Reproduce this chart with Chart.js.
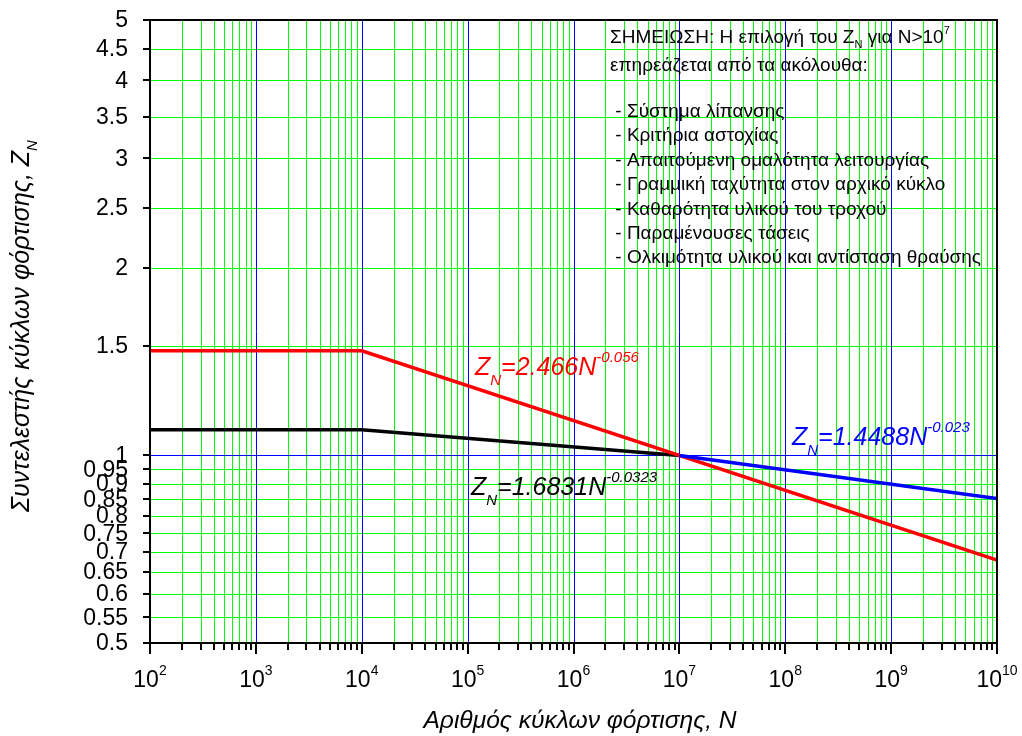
<!DOCTYPE html>
<html>
<head>
<meta charset="utf-8">
<script src="https://cdn.jsdelivr.net/npm/chart.js@4.4.1/dist/chart.umd.min.js"></script>
<style>
  html, body { margin: 0; padding: 0; background: #fff; }
  canvas { display: block; }
</style>
</head>
<body>
<canvas id="zn" width="1022" height="736"></canvas>
<script>
// life factor curves, N = load cycles, Z = factor
const redN = [1e2, 1e4, 1e10];
const redZ = [1.472, 1.472, 0.679];
const blackN = [1e2, 1e4, 1e7];
const blackZ = [1.10, 1.10, 1.00];
const blueN = [1e7, 1e10];
const blueZ = [1.00, 0.853];

// axis ticks
const zTicks = [0.5, 0.55, 0.6, 0.65, 0.7, 0.75, 0.8, 0.85, 0.9, 0.95, 1, 1.5, 2, 2.5, 3, 3.5, 4, 4.5, 5];
const nExponents = [2, 3, 4, 5, 6, 7, 8, 9, 10];

const FONT = '"Liberation Sans", Arial, sans-serif';
const GREEN = '#00ff00';
const BLUE = '#0000ff';

// minor grid positions 1..9 x 10^k, plus last decade
const nGrid = [];
nExponents.forEach((e, i) => {
  if (i === nExponents.length - 1) { nGrid.push(Math.pow(10, e)); return; }
  for (let m = 1; m <= 9; m++) nGrid.push(m * Math.pow(10, e));
});
const isDecade = v => Math.abs(Math.log10(v) - Math.round(Math.log10(v))) < 1e-9;

function pts(xs, ys) { return xs.map((x, i) => ({ x: x, y: ys[i] })); }

// text with sub/superscript parts
function richWidth(ctx, parts, size, style) {
  let w = 0;
  parts.forEach(p => {
    const fs = p.sub || p.sup ? p.fs || Math.round(size * 0.6) : size;
    ctx.font = style + ' ' + fs + 'px ' + FONT;
    w += ctx.measureText(p.t).width;
  });
  return w;
}
function drawRich(ctx, x, y, parts, size, style, color, subDy, supDy) {
  ctx.fillStyle = color;
  ctx.textBaseline = 'alphabetic';
  ctx.textAlign = 'left';
  let cx = x;
  parts.forEach(p => {
    const fs = p.sub || p.sup ? p.fs || Math.round(size * 0.6) : size;
    ctx.font = style + ' ' + fs + 'px ' + FONT;
    const dy = p.sub ? subDy : p.sup ? supDy : 0;
    ctx.fillText(p.t, cx, y + dy);
    cx += ctx.measureText(p.t).width;
  });
}

const noteItems = [
  ' - Σύστημα λίπανσης',
  ' - Κριτήρια αστοχίας',
  ' - Απαιτούμενη ομαλότητα λειτουργίας',
  ' - Γραμμική ταχύτητα στον αρχικό κύκλο',
  ' - Καθαρότητα υλικού του τροχού',
  ' - Παραμένουσες τάσεις',
  ' - Ολκιμότητα υλικού και αντίσταση θραύσης'
];

function vLine(ctx, x, a) {
  ctx.beginPath(); ctx.moveTo(x, a.top); ctx.lineTo(x, a.bottom); ctx.stroke();
}
function hLine(ctx, y, a) {
  ctx.beginPath(); ctx.moveTo(a.left, y); ctx.lineTo(a.right, y); ctx.stroke();
}

const gridPlugin = {
  id: 'loggrid',
  beforeDatasetsDraw(chart) {
    const ctx = chart.ctx;
    const a = chart.chartArea;
    const xs = chart.scales.x;
    const ys = chart.scales.y;
    ctx.save();
    ctx.lineWidth = 1;
    ctx.strokeStyle = GREEN;
    nGrid.filter(v => !isDecade(v)).forEach(v => vLine(ctx, Math.round(xs.getPixelForValue(v)) + 0.5, a));
    zTicks.filter(v => v !== 1).forEach(v => hLine(ctx, Math.round(ys.getPixelForValue(v)) + 0.5, a));
    ctx.strokeStyle = BLUE;
    nGrid.filter(isDecade).forEach(v => vLine(ctx, Math.round(xs.getPixelForValue(v)) + 0.5, a));
    hLine(ctx, Math.round(ys.getPixelForValue(1)) + 0.5, a);
    ctx.restore();
  },
  afterDraw(chart) {
    const ctx = chart.ctx;
    const a = chart.chartArea;
    const xs = chart.scales.x;
    const ys = chart.scales.y;
    ctx.save();

    // frame
    ctx.strokeStyle = '#000';
    ctx.lineWidth = 2;
    ctx.strokeRect(a.left, a.top, a.right - a.left, a.bottom - a.top);

    // tick marks
    nGrid.forEach(v => {
      const px = Math.round(xs.getPixelForValue(v));
      const len = isDecade(v) ? 11 : 7;
      ctx.beginPath();
      ctx.moveTo(px, a.bottom);
      ctx.lineTo(px, a.bottom + len);
      ctx.stroke();
    });
    zTicks.forEach(v => {
      const py = Math.round(ys.getPixelForValue(v));
      ctx.beginPath();
      ctx.moveTo(a.left - 7, py);
      ctx.lineTo(a.left, py);
      ctx.stroke();
    });

    // y tick labels
    ctx.fillStyle = '#000';
    ctx.font = '23px ' + FONT;
    ctx.textAlign = 'right';
    ctx.textBaseline = 'middle';
    zTicks.forEach(v => ctx.fillText(String(v), 128, ys.getPixelForValue(v) + 1));

    // x tick labels 10^k
    nExponents.forEach(e => {
      const parts = [{ t: '10' }, { t: String(e), sup: true, fs: 14 }];
      const w = richWidth(ctx, parts, 23, '');
      const px = xs.getPixelForValue(Math.pow(10, e));
      drawRich(ctx, px - w / 2, 687, parts, 23, '', '#000', 0, -12);
    });

    // axis titles
    const xt = [{ t: 'Αριθμός κύκλων φόρτισης, N' }];
    const xw = richWidth(ctx, xt, 24.6, 'italic');
    drawRich(ctx, 580 - xw / 2, 728, xt, 24.6, 'italic', '#000', 0, 0);

    const yt = [{ t: 'Συντελεστής κύκλων φόρτισης, Z' }, { t: 'N', sub: true, fs: 15 }];
    const yw = richWidth(ctx, yt, 25, 'italic');
    ctx.save();
    ctx.translate(29, 326);
    ctx.rotate(-Math.PI / 2);
    drawRich(ctx, -yw / 2, 0, yt, 25, 'italic', '#000', 8, 0);
    ctx.restore();

    // note
    const nx = 610;
    drawRich(ctx, nx, 43, [{ t: 'ΣΗΜΕΙΩΣΗ: Η επιλογή του Z' }, { t: 'N', sub: true, fs: 11 }, { t: ' για N>10' }, { t: '7', sup: true, fs: 11 }], 19, '', '#000', 5, -9);
    drawRich(ctx, nx, 71, [{ t: 'επηρεάζεται από τα ακόλουθα:' }], 19, '', '#000', 0, 0);
    noteItems.forEach((t, i) => drawRich(ctx, nx, 117 + i * 24.4, [{ t: t }], 19, '', '#000', 0, 0));

    // curve equations
    drawRich(ctx, 475, 375, [{ t: 'Z' }, { t: 'N', sub: true, fs: 15 }, { t: '=2.466N' }, { t: '-0.056', sup: true, fs: 15 }], 25, 'italic', '#ff0000', 10, -13);
    drawRich(ctx, 471, 495, [{ t: 'Z' }, { t: 'N', sub: true, fs: 15 }, { t: '=1.6831N' }, { t: '-0.0323', sup: true, fs: 15 }], 25, 'italic', '#000', 10, -13);
    drawRich(ctx, 792, 445, [{ t: 'Z' }, { t: 'N', sub: true, fs: 15 }, { t: '=1.4488N' }, { t: '-0.023', sup: true, fs: 15 }], 25, 'italic', '#0000ff', 10, -13);

    ctx.restore();
  }
};

new Chart(document.getElementById('zn'), {
  type: 'line',
  data: {
    datasets: [
      { data: pts(blueN, blueZ), borderColor: '#0000ff', borderWidth: 3.5 },
      { data: pts(redN, redZ), borderColor: '#ff0000', borderWidth: 3.5 },
      { data: pts(blackN, blackZ), borderColor: '#000000', borderWidth: 3.5 }
    ]
  },
  options: {
    responsive: false,
    animation: false,
    devicePixelRatio: 1,
    layout: { padding: { top: 20, right: 25, left: 0, bottom: 0 } },
    elements: { point: { radius: 0 }, line: { tension: 0 } },
    plugins: { legend: { display: false }, tooltip: { enabled: false } },
    scales: {
      x: {
        type: 'logarithmic',
        min: 1e2,
        max: 1e10,
        afterFit: s => { s.height = 93; s.paddingLeft = 0; s.paddingRight = 0; },
        ticks: { display: false },
        grid: { display: false },
        border: { display: false }
      },
      y: {
        type: 'logarithmic',
        min: 0.5,
        max: 5,
        afterFit: s => { s.width = 150; s.paddingTop = 0; s.paddingBottom = 0; },
        ticks: { display: false },
        grid: { display: false },
        border: { display: false }
      }
    }
  },
  plugins: [gridPlugin]
});
</script>
</body>
</html>
